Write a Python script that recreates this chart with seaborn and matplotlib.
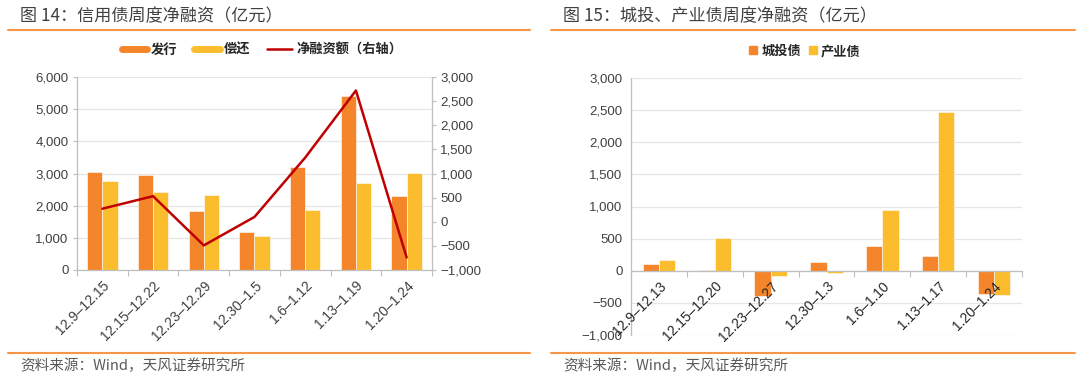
import numpy as np
import pandas as pd
import matplotlib
matplotlib.use("Agg")
import matplotlib.pyplot as plt
import seaborn as sns
from matplotlib.lines import Line2D
from matplotlib.ticker import FuncFormatter, MultipleLocator, FixedLocator

# ---------------- data ----------------
weeks_left = ["12.9–12.15", "12.15–12.22", "12.23–12.29", "12.30–1.5", "1.6–1.12", "1.13–1.19", "1.20–1.24"]
issue = [3050, 2950, 1820, 1170, 3210, 5410, 2290]
repay = [2780, 2420, 2320, 1070, 1870, 2700, 3030]
net = [270, 530, -490, 100, 1330, 2720, -740]

weeks_right = ["12.9–12.13", "12.15–12.20", "12.23–12.27", "12.30–1.3", "1.6–1.10", "1.13–1.17", "1.20–1.24"]
chengtou = [110, 15, -400, 140, 390, 230, -365]
chanye = [165, 515, -80, -35, 945, 2475, -380]

ORANGE = "#F4852A"
YELLOW = "#FBBD2E"
RED = "#C00000"
GRID = "#E6E6E6"
SPINE = "#BFBFBF"
TXT = "#404040"

sns.set_theme(style="white")
plt.rcParams['font.family'] = ['Noto Sans CJK SC', 'DejaVu Sans']
plt.rcParams['axes.unicode_minus'] = True

NUMFONT = ['Liberation Sans', 'DejaVu Sans']
YFS = 9.5
XFS = 10

fig = plt.figure(figsize=(10.8, 3.82), dpi=100)
W, H = 1080, 382

def fx(px):
    return px / W

def fy(py):
    return 1 - py / H

def fmt(v, pos):
    s = f"{abs(int(round(v))):,}"
    return ("−" + s) if v < 0 else s

def style_common(ax):
    ax.set_xlabel("")
    ax.set_ylabel("")
    ax.spines["top"].set_visible(False)
    ax.yaxis.grid(True, color=GRID, linewidth=0.9)
    ax.set_axisbelow(True)
    ax.yaxis.set_major_formatter(FuncFormatter(fmt))
    ax.tick_params(axis="y", length=3, width=0.8, color=SPINE, labelsize=YFS, labelcolor=TXT, pad=3)
    for lab in ax.get_yticklabels():
        lab.set_fontfamily(NUMFONT)

# ---------------- left chart ----------------
axL = fig.add_axes([fx(77), fy(270), fx(432 - 77), (270 - 77) / H])
dfL = pd.DataFrame({
    "week": weeks_left * 2,
    "value": issue + repay,
    "type": ["发行"] * 7 + ["偿还"] * 7,
})
sns.barplot(data=dfL, x="week", y="value", hue="type", order=weeks_left,
            hue_order=["发行", "偿还"], palette=[ORANGE, YELLOW], width=0.6,
            saturation=1, gap=0, edgecolor="white", linewidth=0.4, ax=axL, legend=False)
axL.set_ylim(0, 6000)
axL.set_xlim(-0.5, 6.5)
axL.yaxis.set_major_locator(MultipleLocator(1000))
style_common(axL)
axL.spines["right"].set_visible(False)
for s in ["left", "bottom"]:
    axL.spines[s].set_color(SPINE)
    axL.spines[s].set_linewidth(0.9)
axL.xaxis.set_minor_locator(FixedLocator(np.arange(-0.5, 7, 1)))
axL.tick_params(axis="x", which="major", length=0, labelsize=XFS, labelcolor=TXT, pad=6)
axL.tick_params(axis="x", which="minor", length=4, width=0.8, color=SPINE, bottom=True)
axL.set_xticks(range(7))
axL.set_xticklabels(weeks_left, rotation=45, ha="right", rotation_mode="anchor", fontfamily=NUMFONT)

axR2 = axL.twinx()
sns.lineplot(x=np.arange(7), y=net, color=RED, linewidth=1.8, ax=axR2)
axR2.set_ylim(-1000, 3000)
axR2.set_xlim(-0.5, 6.5)
axR2.yaxis.set_major_locator(MultipleLocator(500))
axR2.yaxis.set_major_formatter(FuncFormatter(fmt))
axR2.tick_params(axis="y", length=3, width=0.8, color=SPINE, labelsize=YFS, labelcolor=TXT, pad=3)
for lab in axR2.get_yticklabels():
    lab.set_fontfamily(NUMFONT)
for s in ["top", "left", "bottom"]:
    axR2.spines[s].set_visible(False)
axR2.spines["right"].set_color(SPINE)
axR2.spines["right"].set_linewidth(0.9)
axR2.grid(False)

handlesL = [
    Line2D([0], [0], color=ORANGE, linewidth=5),
    Line2D([0], [0], color=YELLOW, linewidth=5),
    Line2D([0], [0], color=RED, linewidth=1.8),
]
fig.legend(handlesL, ["发行", "偿还", "净融资额（右轴）"], loc="center",
           bbox_to_anchor=(fx(262), fy(50)), ncol=3, frameon=False,
           prop={"size": 9.5, "weight": "bold"}, handlelength=1.9, handletextpad=0.3,
           columnspacing=1.3, labelcolor="#262626")

# ---------------- right chart ----------------
axB = fig.add_axes([fx(631), fy(335), fx(1022 - 631), (335 - 78) / H])
dfR = pd.DataFrame({
    "week": weeks_right * 2,
    "value": chengtou + chanye,
    "type": ["城投债"] * 7 + ["产业债"] * 7,
})
sns.barplot(data=dfR, x="week", y="value", hue="type", order=weeks_right,
            hue_order=["城投债", "产业债"], palette=[ORANGE, YELLOW], width=0.58,
            saturation=1, gap=0, edgecolor="white", linewidth=0.4, ax=axB, legend=False)
axB.set_ylim(-1000, 3000)
axB.set_xlim(-0.5, 6.5)
axB.yaxis.set_major_locator(MultipleLocator(500))
style_common(axB)
axB.spines["right"].set_visible(False)
axB.spines["left"].set_color(SPINE)
axB.spines["left"].set_linewidth(0.9)
axB.spines["bottom"].set_position(("data", 0))
axB.spines["bottom"].set_color(SPINE)
axB.spines["bottom"].set_linewidth(0.9)
axB.spines["bottom"].set_zorder(3)
axB.xaxis.set_minor_locator(FixedLocator(np.arange(-0.5, 7, 1)))
axB.tick_params(axis="x", which="major", length=0, labelsize=XFS, labelcolor="#262626", pad=6)
axB.tick_params(axis="x", which="minor", length=4, width=0.8, color=SPINE, bottom=True)
axB.set_xticks(range(7))
axB.set_xticklabels(weeks_right, rotation=45, ha="right", rotation_mode="anchor", fontfamily=NUMFONT)
axB.xaxis.set_zorder(4)

handlesR = [
    Line2D([0], [0], marker="s", color="none", markerfacecolor=ORANGE, markeredgecolor=ORANGE, markersize=5.5),
    Line2D([0], [0], marker="s", color="none", markerfacecolor=YELLOW, markeredgecolor=YELLOW, markersize=5.5),
]
fig.legend(handlesR, ["城投债", "产业债"], loc="center",
           bbox_to_anchor=(fx(805), fy(51)), ncol=2, frameon=False,
           prop={"size": 9.5, "weight": "bold"}, handlelength=0.6, handletextpad=0.3,
           columnspacing=0.6, labelcolor="#262626")

# ---------------- titles, separators, source ----------------
fig.text(fx(20), fy(16), "图 14：信用债周度净融资（亿元）", fontsize=12.3, color=TXT,
         ha="left", va="center", fontweight="medium")
fig.text(fx(563), fy(16), "图 15：城投、产业债周度净融资（亿元）", fontsize=12.3, color=TXT,
         ha="left", va="center", fontweight="medium")
for x0, x1 in [(8, 530), (551, 1075)]:
    for yy in [30, 353]:
        fig.add_artist(Line2D([fx(x0), fx(x1)], [fy(yy), fy(yy)], color="#F79646",
                              linewidth=1.5, transform=fig.transFigure))
fig.text(fx(20), fy(366), "资料来源：Wind，天风证券研究所", fontsize=10.5, color="#595959",
         ha="left", va="center")
fig.text(fx(563), fy(366), "资料来源：Wind，天风证券研究所", fontsize=10.5, color="#595959",
         ha="left", va="center")

fig.savefig("out.png", dpi=100, facecolor="white")
